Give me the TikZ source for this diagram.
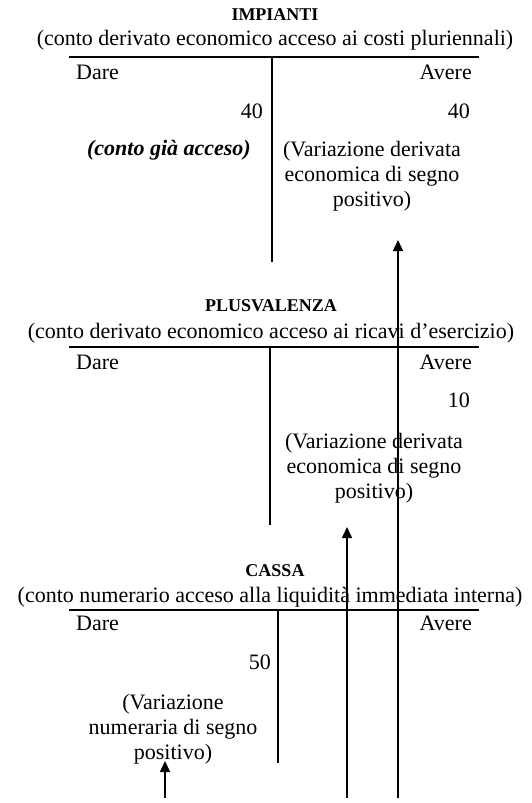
\documentclass[tikz,border=0pt]{standalone}
\usepackage{fontspec}
\setmainfont{Liberation Serif}
\usetikzlibrary{arrows.meta,positioning}

\begin{document}
\begin{tikzpicture}[x=1pt,y=-1pt,>=Stealth,
  titolo/.style={font=\bfseries\fontsize{18}{20}\selectfont,inner sep=0pt},
  testo/.style={font=\fontsize{22}{25}\selectfont,inner sep=0pt},
  varia/.style={testo,align=center},
  conto/.style={line width=1.2pt},
  freccia/.style={line width=1.5pt,-{Triangle[width=10pt,length=11pt]}}]
  \useasboundingbox (0,0) rectangle (532,803);
  % IMPIANTI
  \node[titolo] (imp-tit) at (275,15) {IMPIANTI};
  \node[testo] (imp-sub) at (275,40) {(conto derivato economico acceso ai costi pluriennali)};
  \coordinate (imp-sx) at (69,57);
  \coordinate (imp-dx) at (479,57);
  \coordinate (imp-top) at (272,57);
  \coordinate (imp-bot) at (272,262);
  \draw[conto] (imp-sx) -- (imp-dx);
  \draw[conto] (imp-top) -- (imp-bot);
  \node[testo,anchor=west] (imp-dare) at (76,72) {Dare};
  \node[testo,anchor=east] (imp-avere) at (472,72) {Avere};
  \node[testo,anchor=east] (imp-d40) at (263,111) {40};
  \node[testo,anchor=east] (imp-a40) at (470,111) {40};
  \node[testo,anchor=east,font=\bfseries\itshape\fontsize{22}{25}\selectfont] (imp-gia) at (251,150) {(conto già acceso)};
  \node[varia] (imp-var) at (372,176) {(Variazione derivata\\economica di segno\\positivo)};
  % PLUSVALENZA
  \node[titolo] (plu-tit) at (271,306) {PLUSVALENZA};
  \node[testo] (plu-sub) at (271,333) {(conto derivato economico acceso ai ricavi d’esercizio)};
  \coordinate (plu-sx) at (69,347);
  \coordinate (plu-dx) at (479,347);
  \coordinate (plu-top) at (270,347);
  \coordinate (plu-bot) at (270,525);
  \draw[conto] (plu-sx) -- (plu-dx);
  \draw[conto] (plu-top) -- (plu-bot);
  \node[testo,anchor=west] (plu-dare) at (76,362) {Dare};
  \node[testo,anchor=east] (plu-avere) at (472,362) {Avere};
  \node[testo,anchor=east] (plu-a10) at (470,400) {10};
  \node[varia] (plu-var) at (374,468) {(Variazione derivata\\economica di segno\\positivo)};
  % CASSA
  \node[titolo] (cas-tit) at (275,571) {CASSA};
  \node[testo] (cas-sub) at (270,597) {(conto numerario acceso alla liquidità immediata interna)};
  \coordinate (cas-sx) at (69,610);
  \coordinate (cas-dx) at (479,610);
  \coordinate (cas-top) at (278,610);
  \coordinate (cas-bot) at (278,763);
  \draw[conto] (cas-sx) -- (cas-dx);
  \draw[conto] (cas-top) -- (cas-bot);
  \node[testo,anchor=west] (cas-dare) at (76,623) {Dare};
  \node[testo,anchor=east] (cas-avere) at (472,623) {Avere};
  \node[testo,anchor=east] (cas-d50) at (271,662) {50};
  \node[varia] (cas-var) at (173,729) {(Variazione\\numeraria di segno\\positivo)};
  % frecce
  \coordinate (fr1-da) at (398,798);
  \coordinate (fr1-a) at (398,240);
  \coordinate (fr2-da) at (347,798);
  \coordinate (fr2-a) at (347,527);
  \coordinate (fr3-da) at (165,798);
  \coordinate (fr3-a) at (165,761);
  \draw[freccia] (fr1-da) -- (fr1-a);
  \draw[freccia] (fr2-da) -- (fr2-a);
  \draw[freccia] (fr3-da) -- (fr3-a);
\end{tikzpicture}
\end{document}
